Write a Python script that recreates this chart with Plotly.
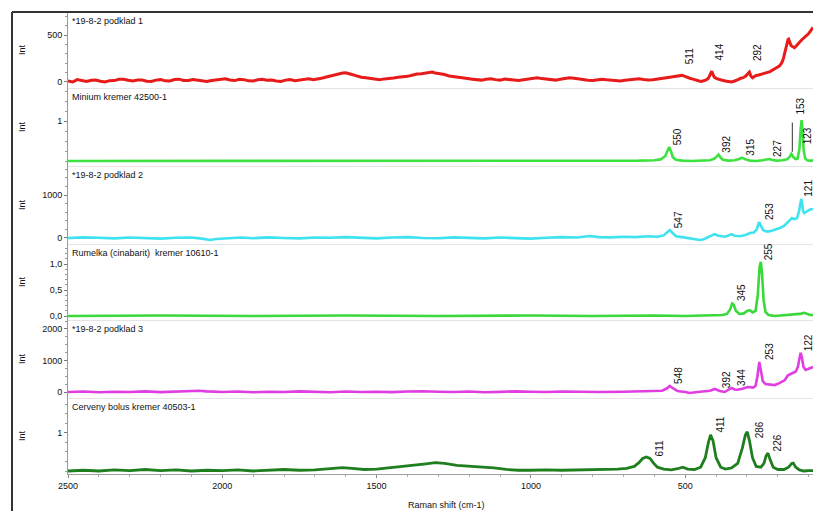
import numpy as np
import plotly.graph_objects as go
from plotly.subplots import make_subplots

# ---------------- data (Raman shift cm-1, intensity) ----------------
spec_podklad1 = [(2500,10),(2485,0),(2470,25),(2455,12),(2440,5),(2425,18),(2410,20),(2395,8),(2380,0),(2365,14),(2350,15),
    (2335,28),(2320,30),(2305,18),(2290,10),(2275,22),(2260,20),(2245,9),(2230,5),(2215,20),(2200,25),(2185,12),
    (2170,10),(2155,26),(2140,30),(2125,17),(2110,15),(2095,27),(2080,20),(2065,8),(2050,5),(2035,16),(2020,20),
    (2005,30),(1990,35),(1975,22),(1960,15),(1945,28),(1930,25),(1915,12),(1900,10),(1885,24),(1870,30),(1855,18),
    (1840,20),(1825,10),(1810,5),(1795,20),(1780,25),(1765,14),(1750,20),(1735,30),(1720,35),(1705,24),(1690,30),
    (1675,42),(1660,55),(1645,68),(1630,80),(1620,90),(1610,95),(1600,98),(1590,85),(1580,80),(1570,70),(1560,58),
    (1550,50),(1535,46),(1520,40),(1505,30),(1490,25),(1475,33),(1460,35),(1445,42),(1430,50),(1415,52),(1400,60),
    (1385,72),(1370,85),(1355,88),(1340,95),(1330,100),(1320,105),(1310,96),(1300,90),(1290,88),(1280,80),(1265,64),
    (1250,55),(1235,52),(1220,45),(1205,36),(1190,30),(1175,26),(1160,20),(1145,30),(1130,35),(1115,25),(1100,20),
    (1085,32),(1070,30),(1055,20),(1040,15),(1025,22),(1010,25),(995,38),(980,45),(965,36),(950,30),(935,24),(920,20),
    (905,30),(890,35),(875,44),(860,40),(845,30),(830,25),(815,18),(800,15),(785,26),(770,30),(755,24),(740,20),
    (725,12),(710,10),(695,18),(680,25),(665,30),(650,35),(635,26),(620,20),(605,25),(590,30),(575,38),(560,45),
    (550,50),(540,55),(525,60),(511,70),(503,62),(495,50),(485,40),(475,30),(465,18),(455,10),(448,6),(440,15),
    (432,22),(425,40),(419,80),(414,115),(409,70),(405,50),(398,36),(390,25),(380,18),(370,10),(360,4),(350,0),
    (342,8),(335,15),(327,28),(320,40),(312,46),(305,60),(298,80),(292,105),(287,62),(282,45),(276,58),(270,70),
    (262,74),(255,80),(248,90),(240,95),(232,104),(225,110),(218,124),(210,140),(203,152),(195,170),(190,190),
    (185,220),(181,262),(177,320),(173,380),(170,420),(167,450),(165,455),(162,430),(160,400),(157,388),(154,380),
    (150,372),(146,365),(142,378),(138,390),(134,402),(130,420),(126,436),(122,450),(118,462),(114,470),(110,486),
    (105,500),(100,516),(95,540),(90,560),(86,580)]

spec_minium = [(2500,0.0),(2300,0.0),(2100,0.01),(1900,0.0),(1700,0.01),(1500,0.0),(1300,0.01),(1100,0.0),(900,0.01),
    (750,0.0),(650,0.01),(600,0.02),(580,0.04),(565,0.12),(558,0.27),(552,0.35),(546,0.24),(540,0.09),(530,0.03),
    (510,0.01),(480,0.0),(450,0.01),(420,0.02),(405,0.06),(398,0.13),(392,0.16),(386,0.09),(378,0.03),(360,0.01),
    (340,0.02),(325,0.05),(318,0.08),(312,0.07),(305,0.04),(290,0.01),(270,0.0),(250,0.02),(236,0.04),(228,0.05),
    (220,0.03),(205,0.01),(185,0.02),(170,0.04),(162,0.1),(156,0.18),(150,0.1),(143,0.05),(136,0.06),(130,0.3),
    (126,0.8),(123,1.02),(120,0.75),(116,0.25),(111,0.06),(105,0.02),(95,0.01),(86,0.01)]

spec_podklad2 = [(2500,0),(2450,15),(2400,5),(2350,-10),(2300,10),(2250,0),(2200,-15),(2150,5),(2100,10),(2060,-20),
    (2040,-45),(2020,-25),(1980,0),(1940,10),(1900,-5),(1850,15),(1800,0),(1750,-10),(1700,10),(1650,5),(1600,20),
    (1550,0),(1500,-10),(1450,10),(1400,20),(1350,0),(1300,-5),(1250,15),(1200,0),(1150,-10),(1100,10),(1050,0),
    (1000,-15),(950,5),(900,20),(850,10),(810,45),(780,20),(740,15),(700,30),(660,20),(620,40),(590,30),(570,60),
    (560,120),(550,186),(540,110),(530,40),(510,20),(490,0),(470,-20),(453,-45),(440,-30),(420,30),(405,90),(395,60),
    (385,40),(372,30),(360,60),(350,90),(340,50),(323,40),(305,70),(290,115),(278,130),(268,200),(261,373),(255,300),
    (248,190),(242,160),(232,150),(220,170),(205,200),(193,233),(180,280),(167,373),(160,440),(154,466),(146,440),
    (138,460),(132,600),(127,850),(124,909),(121,780),(118,620),(114,583),(110,600),(104,640),(97,660),(90,670),(86,676)]

spec_rumelka = [(2500,0.0),(2200,0.01),(1900,0.0),(1600,0.01),(1300,0.0),(1000,0.01),(800,0.0),(600,0.01),(500,0.0),
    (420,0.01),(380,0.02),(365,0.04),(355,0.12),(348,0.24),(343,0.22),(336,0.1),(325,0.04),(310,0.05),(298,0.1),
    (290,0.11),(282,0.07),(272,0.1),(265,0.4),(259,0.95),(255,1.04),(251,0.8),(246,0.3),(240,0.08),(230,0.02),
    (210,0.0),(180,0.01),(150,0.02),(130,0.04),(115,0.06),(105,0.04),(95,0.02),(86,0.02)]

spec_podklad3 = [(2500,0),(2450,15),(2400,-10),(2350,10),(2300,0),(2250,20),(2200,-5),(2150,15),(2100,25),(2075,40),
    (2050,20),(2000,0),(1950,15),(1900,-10),(1850,10),(1800,0),(1750,20),(1700,5),(1650,-10),(1600,15),(1550,0),
    (1500,10),(1450,-5),(1400,15),(1350,25),(1300,10),(1250,0),(1200,15),(1150,-10),(1100,5),(1050,20),(1000,10),
    (950,0),(900,15),(850,5),(800,-5),(777,0),(700,10),(650,20),(600,15),(575,40),(560,110),(550,190),(540,120),
    (525,30),(500,0),(485,-30),(460,0),(437,10),(420,40),(404,95),(395,60),(388,30),(372,0),(360,60),(350,127),
    (340,80),(330,70),(315,100),(297,158),(280,140),(272,200),(266,500),(260,950),(255,700),(249,350),(240,250),
    (225,230),(210,220),(195,280),(177,380),(168,520),(160,570),(150,610),(142,650),(135,800),(130,1050),(126,1240),
    (122,1100),(117,800),(110,700),(100,740),(93,770),(86,790)]

spec_bolus = [(2500,0.0),(2450,0.02),(2400,0.0),(2350,0.03),(2300,0.01),(2250,0.04),(2200,0.01),(2150,0.03),(2100,0.0),
    (2050,0.02),(2000,0.01),(1950,0.03),(1900,0.0),(1850,0.02),(1800,0.04),(1750,0.02),(1700,0.03),(1650,0.06),
    (1610,0.09),(1580,0.07),(1540,0.04),(1500,0.05),(1460,0.08),(1420,0.11),(1380,0.14),(1340,0.19),(1310,0.22),
    (1280,0.2),(1240,0.15),(1200,0.13),(1160,0.11),(1120,0.08),(1080,0.04),(1040,0.02),(1000,0.02),(950,0.03),
    (900,0.02),(850,0.03),(800,0.04),(760,0.03),(720,0.05),(690,0.07),(665,0.12),(650,0.22),(638,0.33),(626,0.37),
    (614,0.33),(602,0.2),(590,0.1),(570,0.05),(545,0.03),(525,0.06),(508,0.1),(492,0.05),(470,0.04),(450,0.1),(435,0.35),
    (425,0.75),(418,0.95),(410,0.8),(400,0.35),(385,0.1),(370,0.05),(350,0.08),(330,0.2),(315,0.6),(305,0.95),
    (299,1.03),(292,0.8),(282,0.35),(270,0.12),(255,0.1),(245,0.2),(238,0.4),(232,0.47),(225,0.3),(215,0.1),
    (200,0.04),(180,0.04),(165,0.1),(155,0.2),(150,0.21),(142,0.1),(130,0.03),(115,0.0),(100,0.01),(86,0.01)]

titles = ["*19-8-2 podklad 1", "Minium kremer 42500-1", "*19-8-2 podklad 2",
          "Rumelka (cinabarit)  kremer 10610-1", "*19-8-2 podklad 3", "Cerveny bolus kremer 40503-1"]

peak_labels = [[511, 414, 292], [550, 392, 315, 227, 153, 123], [547, 253, 121],
               [345, 255], [548, 392, 344, 253, 122], [611, 411, 286, 226]]

x_ticks = [2500, 2000, 1500, 1000, 500]
y_ticks = [[0, 500], [1], [0, 1000], [0, 0.5, 1.0], [0, 1000, 2000], [1]]
y_ticktext = [["0", "500"], ["1"], ["0", "1000"], ["0,0", "0,5", "1,0"], ["0", "1000", "2000"], ["1"]]

spectra = [spec_podklad1, spec_minium, spec_podklad2, spec_rumelka, spec_podklad3, spec_bolus]

# ---------------- styling / layout ----------------
colors = ["#e81b1b", "#3ee23e", "#3fe3ef", "#3ad83a", "#e03ee0", "#1f7f1f"]
widths = [3.0, 2.6, 2.6, 2.6, 2.6, 2.8]
y_ranges = [[-64, 745], [-0.125, 1.825], [-140, 1678], [-0.077, 1.385], [-190, 2282], [-0.079, 1.92]]
minor_dt = [100, 0.25, 200, 0.1, 250, 0.25]

W, H = 813, 511
ML, MT, MB = 68, 12, 37
tops_px = [12, 88, 166, 244, 320, 398, 474]
plot_h = H - MT - MB
plot_w = W - ML


def py(p):
    return (H - MB - p) / plot_h


def px(p):
    return (p - ML) / plot_w


FONT = "Liberation Sans, Arial, sans-serif"

fig = make_subplots(rows=6, cols=1, shared_xaxes=True, vertical_spacing=0)

label_yshift = {(0, 511): 9, (0, 414): 9, (0, 292): 9, (1, 153): 37, (1, 123): -26}
label_xshift = {(1, 123): 6, (2, 121): 6, (4, 122): 6}

annotations = []
shapes = []
for i, spec in enumerate(spectra):
    xs = np.array([p[0] for p in spec], dtype=float)
    ys = np.array([p[1] for p in spec], dtype=float)
    fig.add_trace(go.Scatter(x=xs, y=ys, mode="lines", line=dict(color=colors[i], width=widths[i]),
                             hoverinfo="skip", showlegend=False), row=i + 1, col=1)
    dom = [py(tops_px[i + 1]), py(tops_px[i])]
    yname = "yaxis" if i == 0 else f"yaxis{i + 1}"
    fig.layout[yname].update(
        domain=dom, range=y_ranges[i], tickvals=y_ticks[i], ticktext=y_ticktext[i],
        showline=True, linecolor="#9a9a9a", linewidth=1, ticks="outside", ticklen=3, tickcolor="#777",
        tickfont=dict(family=FONT, size=9, color="#111"), showgrid=False, zeroline=False,
        minor=dict(dtick=minor_dt[i], tick0=0, ticks="outside", ticklen=2, tickcolor="#999"),
    )
    xname = "xaxis" if i == 0 else f"xaxis{i + 1}"
    fig.layout[xname].update(range=[2500, 86], showgrid=False, zeroline=False, showline=True,
                             linecolor="#e4e4e4" if i < 5 else "#a0a0a0", linewidth=1)
    yref = "y" if i == 0 else f"y{i + 1}"
    xref = "x" if i == 0 else f"x{i + 1}"
    # panel title
    annotations.append(dict(text=titles[i], xref="paper", yref="paper", x=px(70), y=dom[1], yshift=-9,
                            xanchor="left", yanchor="middle", showarrow=False,
                            font=dict(family=FONT, size=9, color="#111")))
    # "Int"
    annotations.append(dict(text="Int", xref="paper", yref="paper", x=px(22), y=(dom[0] + dom[1]) / 2,
                            textangle=-90, xanchor="center", yanchor="middle", showarrow=False,
                            font=dict(family=FONT, size=9, color="#111")))
    # peak labels
    for pk in peak_labels[i]:
        near = np.abs(xs - pk) <= 9
        yv = max(ys[near].max() if near.any() else -1e9, np.interp(pk, xs[::-1], ys[::-1]))
        annotations.append(dict(text=str(pk), xref=xref, yref=yref, x=pk, y=yv,
                                xshift=label_xshift.get((i, pk), 8),
                                yshift=label_yshift.get((i, pk), 0), textangle=-90,
                                xanchor="center", yanchor="bottom", showarrow=False,
                                font=dict(family=FONT, size=10, color="#111")))
        if i == 1 and pk == 153:
            shapes.append(dict(type="line", xref=xref, yref=yref, x0=pk, x1=pk, y0=yv + 0.05, y1=yv + 0.78,
                               line=dict(color="#333", width=1)))

fig.layout["xaxis6"].update(tickvals=x_ticks, ticks="outside", ticklen=3, tickcolor="#888", showticklabels=True,
                            tickfont=dict(family=FONT, size=9, color="#111"),
                            minor=dict(dtick=100, tick0=0, ticks="outside", ticklen=2, tickcolor="#aaa"))

annotations.append(dict(text="Raman shift (cm-1)", xref="paper", yref="paper", x=px(447), y=py(505),
                        xanchor="center", yanchor="middle", showarrow=False,
                        font=dict(family=FONT, size=9, color="#111")))

# outer frame
shapes.append(dict(type="line", xref="paper", yref="paper", x0=px(12), x1=px(12), y0=py(520), y1=py(12),
                   line=dict(color="#333", width=2)))
shapes.append(dict(type="line", xref="paper", yref="paper", x0=px(12), x1=px(830), y0=py(12), y1=py(12),
                   line=dict(color="#333", width=2)))

fig.update_layout(width=W, height=H, margin=dict(l=ML, r=0, t=MT, b=MB, pad=0),
                  paper_bgcolor="white", plot_bgcolor="white", annotations=annotations, shapes=shapes,
                  showlegend=False)

fig.write_html("out.html")
